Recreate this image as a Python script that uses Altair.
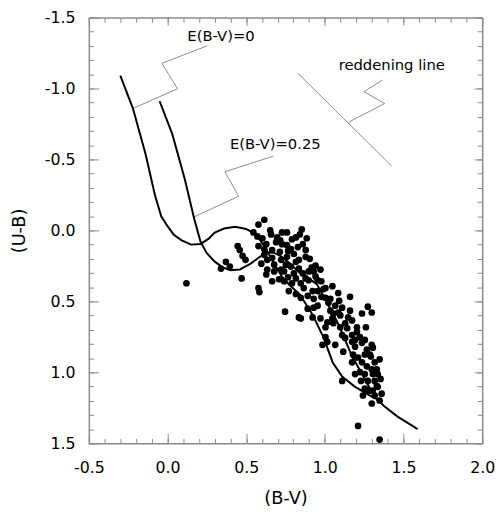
import altair as alt
import pandas as pd

# ---------------- data ----------------
# Unreddened ZAMS, E(B-V)=0
zams_bv = [-0.30, -0.22, -0.14, -0.08, -0.04, 0.00, 0.04, 0.09, 0.15, 0.21, 0.26, 0.30,
           0.36, 0.43, 0.50, 0.55, 0.59, 0.62, 0.68, 0.73, 0.78, 0.84, 0.92, 0.99,
           1.05, 1.11, 1.19, 1.32]
zams_ub = [-1.09, -0.86, -0.54, -0.25, -0.10, -0.03, 0.03, 0.07, 0.10, 0.095, 0.06, 0.015,
           -0.013, -0.025, -0.01, 0.02, 0.07, 0.12, 0.24, 0.33, 0.39, 0.45, 0.59, 0.75,
           0.93, 1.03, 1.10, 1.185]

# Reddened ZAMS, E(B-V)=0.25
red_bv = [-0.05, 0.03, 0.11, 0.17, 0.21, 0.25, 0.30, 0.35, 0.40, 0.46, 0.52, 0.57,
          0.62, 0.67, 0.72, 0.78, 0.84, 0.90, 0.95, 1.02, 1.09, 1.17, 1.25, 1.32,
          1.38, 1.46, 1.59]
red_ub = [-0.91, -0.68, -0.36, -0.08, 0.08, 0.16, 0.22, 0.26, 0.28, 0.275, 0.24, 0.20,
          0.16, 0.155, 0.18, 0.235, 0.30, 0.34, 0.38, 0.52, 0.67, 0.88, 1.04, 1.18,
          1.24, 1.31, 1.40]

# Observed stars
star_bv = [0.120, 0.340, 0.371, 0.396, 0.446, 0.459, 0.477, 0.496, 0.471, 0.578, 0.584,
           0.615, 0.546, 0.571, 0.603, 0.697, 0.759, 0.791, 0.816, 0.690, 0.728, 0.628,
           0.615, 0.665, 0.759, 0.784, 0.615, 0.634, 0.596, 0.678, 0.722, 0.759, 0.803,
           0.816, 0.784, 0.634, 0.678, 0.741, 0.803, 0.628, 0.853, 0.860, 0.878, 0.878,
           0.904, 0.835, 0.941, 0.972, 0.929, 0.860, 0.878, 0.816, 0.941, 0.954, 0.791,
           0.847, 0.897, 0.866, 0.922, 0.991, 1.048, 0.741, 1.035, 1.023, 1.066, 1.160,
           0.747, 0.847, 0.891, 0.929, 0.954, 0.847, 0.922, 0.972, 1.035, 1.054, 1.085,
           1.048, 1.016, 1.054, 1.004, 1.098, 1.148, 1.173, 1.129, 1.142, 1.204, 1.236,
           1.110, 1.129, 1.173, 1.204, 1.223, 1.236, 1.173, 1.004, 1.016, 0.985, 1.261,
           1.298, 1.192, 1.117, 1.179, 1.211, 1.286, 1.236, 1.267, 1.317, 1.298, 1.330,
           1.192, 1.254, 1.305, 1.336, 1.273, 1.317, 1.110, 1.330, 1.254, 1.305, 1.336,
           1.242, 1.317, 1.348, 1.211, 1.348, 1.223, 1.292, 1.273, 1.298, 1.192, 1.173,
           0.835, 1.254, 1.305, 1.004, 0.714, 0.752, 0.709, 0.916, 0.771, 0.816, 0.978,
           1.091, 1.110, 0.891, 0.954, 0.658, 0.728, 0.828, 0.578,
           0.578, 0.653, 0.716, 0.665, 0.766, 0.841, 0.885, 0.835, 0.897, 0.766, 0.722,
           0.665, 0.978, 1.004, 1.085, 0.929, 1.098, 1.160, 1.192, 1.267, 1.066, 1.348,
           1.280, 1.361, 1.230, 1.298, 1.354, 1.254]
star_ub = [0.372, 0.269, 0.221, 0.255, 0.110, 0.138, 0.179, 0.207, 0.338, 0.406, 0.434,
           -0.075, 0.014, 0.042, 0.055, 0.049, 0.014, 0.062, 0.049, 0.083, 0.097, 0.097,
           0.131, 0.138, 0.104, 0.131, 0.172, 0.207, 0.234, 0.241, 0.207, 0.186, 0.166,
           0.221, 0.255, 0.276, 0.289, 0.289, 0.303, 0.310, -0.007, 0.097, 0.138, 0.186,
           0.200, 0.269, 0.248, 0.276, 0.289, 0.303, 0.338, 0.338, 0.324, 0.351, 0.372,
           0.372, 0.351, 0.406, 0.427, 0.413, 0.393, 0.358, 0.482, 0.510, 0.530, 0.468,
           0.572, 0.475, 0.551, 0.544, 0.530, 0.620, 0.613, 0.620, 0.565, 0.585, 0.578,
           0.620, 0.647, 0.654, 0.682, 0.599, 0.613, 0.634, 0.654, 0.689, 0.682, 0.585,
           0.737, 0.757, 0.737, 0.716, 0.751, 0.792, 0.785, 0.751, 0.785, 0.806, 0.682,
           0.806, 0.819, 0.854, 0.874, 0.895, 0.874, 0.929, 0.957, 0.929, 0.978, 0.978,
           1.012, 1.012, 1.012, 1.012, 1.060, 1.060, 1.060, 1.095, 1.115, 1.129, 1.102,
           1.163, 1.163, 1.198, 1.377, 1.473, 0.998, 0.888, 0.537, 0.578, 0.895, 0.929,
           0.613, 0.771, 0.826, 0.406, 0.151, 0.241, 0.344, 0.262, 0.427, 0.448, 0.468,
           0.496, 0.544, 0.461, 0.427, 0.028, 0.014, 0.117, 0.110,
           -0.041, 0.000, 0.069, 0.193, 0.145, 0.028, 0.055, 0.207, 0.289, 0.330, 0.276,
           0.358, 0.358, 0.475, 0.441, 0.482, 0.682, 0.565, 0.771, 0.840, 0.806, 0.908,
           1.129, 1.150, 1.060, 1.219, 1.046, 0.874]

# Leader lines for the annotations (zig-zag pointers)
lead_name = ["e0"] * 4 + ["e25"] * 4 + ["red"] * 4
lead_ord = [0, 1, 2, 3] * 3
lead_bv = [0.252, -0.036, 0.064, -0.218, 0.672, 0.365, 0.452, 0.170, 1.367, 1.248, 1.380, 1.154]
lead_ub = [-1.300, -1.177, -0.998, -0.860, -0.523, -0.413, -0.241, -0.096, -1.060, -0.977, -0.894, -0.764]

# Reddening vector
rline_bv = [0.828, 1.424]
rline_ub = [-1.108, -0.454]

# Text labels
lab_text = ["E(B-V)=0", "E(B-V)=0.25", "reddening line"]
lab_bv = [0.340, 0.685, 1.425]
lab_ub = [-1.370, -0.610, -1.165]

# Axis ticks
bv_major = [-0.5, 0.0, 0.5, 1.0, 1.5, 2.0]
bv_minor = [-0.5, -0.4, -0.3, -0.2, -0.1, 0.0, 0.1, 0.2, 0.3, 0.4, 0.5, 0.6, 0.7, 0.8, 0.9,
            1.0, 1.1, 1.2, 1.3, 1.4, 1.5, 1.6, 1.7, 1.8, 1.9, 2.0]
ub_major = [-1.5, -1.0, -0.5, 0.0, 0.5, 1.0, 1.5]
ub_minor = [-1.5, -1.4, -1.3, -1.2, -1.1, -1.0, -0.9, -0.8, -0.7, -0.6, -0.5, -0.4, -0.3,
            -0.2, -0.1, 0.0, 0.1, 0.2, 0.3, 0.4, 0.5, 0.6, 0.7, 0.8, 0.9, 1.0, 1.1, 1.2,
            1.3, 1.4, 1.5]

# ---------------- chart ----------------
zams = pd.DataFrame({"bv": zams_bv, "ub": zams_ub, "i": range(len(zams_bv))})
redz = pd.DataFrame({"bv": red_bv, "ub": red_ub, "i": range(len(red_bv))})
stars = pd.DataFrame({"bv": star_bv, "ub": star_ub})
leads = pd.DataFrame({"bv": lead_bv, "ub": lead_ub, "g": lead_name, "i": lead_ord})
rline = pd.DataFrame({"bv": rline_bv, "ub": rline_ub, "i": [0, 1]})
labels = pd.DataFrame({"bv": lab_bv, "ub": lab_ub, "t": lab_text})

XS = alt.Scale(domain=[-0.5, 2.0], nice=False, zero=False)
YS = alt.Scale(domain=[-1.5, 1.5], reverse=True, nice=False, zero=False)
GRAY = "#8a8a8a"
FONT = "DejaVu Sans"
LABEL_EXPR = "replace(format(datum.value, '.1f'), '\u2212', '-')"


def axis(orient, values, tick=0, labels=False, domain=False, title="", **kw):
    a = dict(orient=orient, values=values, labels=labels, grid=False, domain=domain,
             domainColor=GRAY, domainWidth=1.5, tickColor=GRAY, tickWidth=1,
             title=title, labelFont=FONT, labelFontSize=16, labelColor="black",
             labelFlush=False, labelOverlap=False, titleFont=FONT, titleFontSize=18,
             titleFontWeight="normal", titleColor="black", labelExpr=LABEL_EXPR)
    if tick:
        a["ticks"] = True
        a["tickSize"] = {"expr": str(-tick)}
    else:
        a["ticks"] = False
    a.update(kw)
    return alt.Axis(**a)


pts = alt.Chart(stars).mark_circle(size=46, color="black", opacity=1).encode(
    x=alt.X("bv:Q", scale=XS,
            axis=axis("bottom", bv_major, labels=True, domain=True, title="(B-V)",
                      labelPadding=17, titlePadding=14)),
    y=alt.Y("ub:Q", scale=YS,
            axis=axis("left", ub_major, labels=True, domain=True, title="(U-B)",
                      labelPadding=14, titlePadding=16)),
)

c1 = alt.Chart(zams).mark_line(color="black", strokeWidth=2).encode(
    x=alt.X("bv:Q", scale=XS, axis=axis("bottom", bv_minor, tick=5)),
    y=alt.Y("ub:Q", scale=YS, axis=axis("left", ub_minor, tick=5)),
    order="i:O",
)

c2 = alt.Chart(redz).mark_line(color="black", strokeWidth=2).encode(
    x=alt.X("bv:Q", scale=XS, axis=axis("bottom", bv_major, tick=10)),
    y=alt.Y("ub:Q", scale=YS, axis=axis("left", ub_major, tick=10)),
    order="i:O",
)

ld = alt.Chart(leads).mark_line(color=GRAY, strokeWidth=1).encode(
    x=alt.X("bv:Q", scale=XS, axis=axis("top", bv_minor, tick=5, domain=True)),
    y=alt.Y("ub:Q", scale=YS, axis=axis("right", ub_minor, tick=5, domain=True)),
    detail="g:N",
    order="i:O",
)

rl = alt.Chart(rline).mark_line(color=GRAY, strokeWidth=1).encode(
    x=alt.X("bv:Q", scale=XS, axis=axis("top", bv_major, tick=8)),
    y=alt.Y("ub:Q", scale=YS, axis=axis("right", ub_major, tick=8)),
    order="i:O",
)

tx = alt.Chart(labels).mark_text(font=FONT, fontSize=15, color="black",
                                 align="center", baseline="middle").encode(
    x=alt.X("bv:Q", scale=XS, axis=None),
    y=alt.Y("ub:Q", scale=YS, axis=None),
    text="t:N",
)

chart = alt.layer(ld, rl, c1, c2, pts, tx).resolve_axis(
    x="independent", y="independent"
).properties(
    width=399, height=432,
    padding={"left": 82, "top": 6, "right": 14, "bottom": 66},
    autosize=alt.AutoSizeParams(type="none"),
).configure_view(stroke=None)

chart.save("out.html", embed_options={"renderer": "svg", "actions": False})
